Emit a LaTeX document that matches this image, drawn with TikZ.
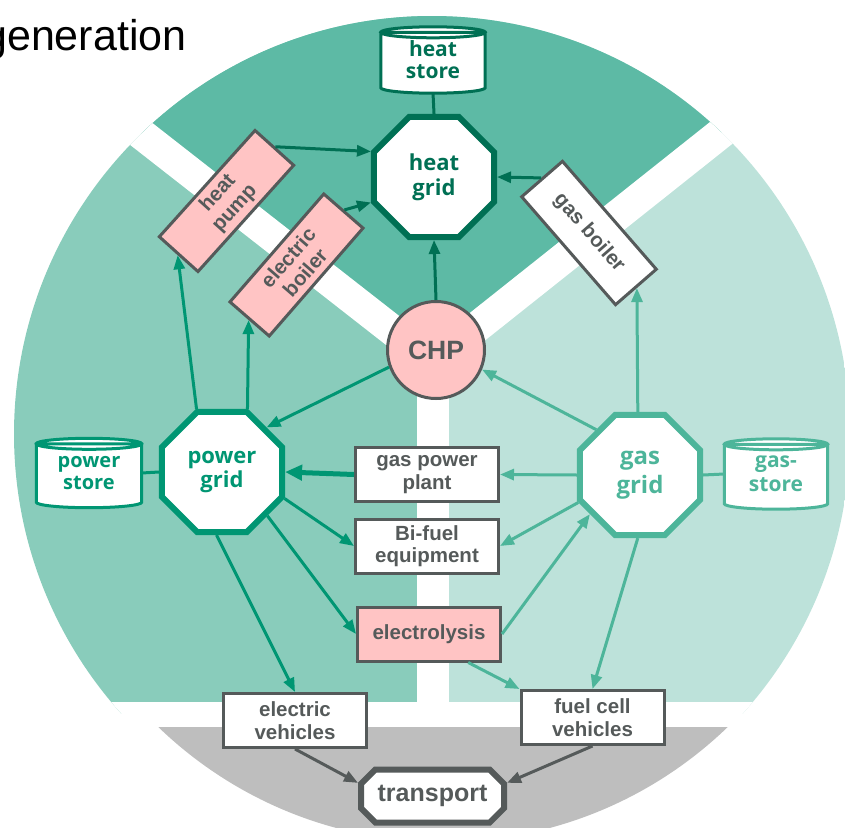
\documentclass[tikz,border=0pt]{standalone}
\usepackage{fontspec}
\setmainfont{Liberation Sans}
\newfontfamily\tfont{Open Sans}
\usetikzlibrary{shapes.geometric,shapes.misc,arrows.meta,calc}
\definecolor{heatc}{HTML}{007054}
\definecolor{powc}{HTML}{009673}
\definecolor{gasc}{HTML}{4DB59A}
\definecolor{secTop}{HTML}{5DBAA5}
\definecolor{secLeft}{HTML}{89CCBB}
\definecolor{secRight}{HTML}{BDE2DA}
\definecolor{secGray}{HTML}{BEBEBE}
\definecolor{pinkc}{HTML}{FFC4C4}
\definecolor{grayc}{HTML}{555A5A}
\pgfdeclarelayer{back}
\pgfdeclarelayer{mid}
\pgfsetlayers{back,mid,main}
\begin{document}
\begin{tikzpicture}[x=1pt,y=-1pt,
  hub/.style={regular polygon, regular polygon sides=8, minimum size=130pt, inner sep=0pt,
    line width=6pt, fill=white, align=center, font=\tfont\bfseries\fontsize{22}{25}\selectfont},
  box/.style={rectangle, draw=grayc, line width=3pt, fill=white, minimum width=143pt,
    minimum height=54pt, inner sep=0pt, align=center, text=grayc,
    font=\bfseries\fontsize{20.5}{22.5}\selectfont},
  pinkbox/.style={box, fill=pinkc},
  store/.style={rectangle, draw=none, fill=none, inner sep=0pt, align=center,
    font=\tfont\bfseries\fontsize{20}{22}\selectfont},
  arr/.style={line width=3pt, -{Triangle[length=14pt,width=11pt]}},
  bigarr/.style={line width=5pt, -{Triangle[length=17pt,width=15pt]}},
  link/.style={line width=3pt}
]
\useasboundingbox (0,0) rectangle (845,827);

% ---------- background sectors ----------
\begin{pgfonlayer}{back}
\begin{scope}
  \clip (432,434) circle (418pt);
  \fill[secLeft] (0,-20) rectangle (433,714);
  \fill[secRight] (433,-20) rectangle (900,714);
  \fill[secTop] (433,362) -- (-167,-107) -- (-167,-300) -- (1033,-300) -- (1033,-115) -- cycle;
  \begin{scope}
    \clip (443,432) circle (410pt);
    \fill[secGray] (0,714) rectangle (900,900);
  \end{scope}
  \draw[white, line width=31pt] (433,362) -- (-167,-107);
  \draw[white, line width=31pt] (433,362) -- (1033,-115);
  \draw[white, line width=32pt] (433,362) -- (433,714);
  \draw[white, line width=25pt] (-20,714.5) -- (900,714.5);
\end{scope}
\end{pgfonlayer}

% ---------- title ----------
\node[anchor=base west, inner sep=0pt, font=\fontsize{43}{45}\selectfont] (gen) at (-17,50) {generation};

% ---------- hubs ----------
\node[hub, draw=heatc, text=heatc] (hg) at (434,177) {heat\\grid};
\node[hub, draw=powc, text=powc, font=\tfont\bfseries\fontsize{22}{24}\selectfont] (pg) at (222,472) {power\\grid};
\node[hub, draw=gasc, text=gasc, font=\tfont\bfseries\fontsize{24}{29}\selectfont] (gg) at (640,475) {gas\\grid};

% ---------- stores ----------
\node[store, text=heatc, minimum width=104pt, minimum height=55pt, font=\tfont\bfseries\fontsize{21}{22}\selectfont] (hs) at (433,60) {heat\\store};
\node[store, text=powc, minimum width=105pt, minimum height=58pt] (ps) at (89,473) {power\\store};
\node[store, text=gasc, minimum width=103pt, minimum height=59pt, font=\tfont\bfseries\fontsize{21}{24}\selectfont] (gs) at (776,474) {gas-\\store};
\begin{pgfonlayer}{mid}
\foreach \s/\c in {hs/heatc, ps/powc, gs/gasc}{
  \path let \p1=(\s.north west), \p2=(\s.north east), \n1={(\x2-\x1)/2} in
    [draw=\c, line width=3pt, fill=white]
    (\s.north west) -- (\s.south west) arc[start angle=180, end angle=360, x radius=\n1, y radius=5.5pt] -- (\s.north east) -- cycle
    (\s.north) ellipse[x radius=\n1, y radius=5.5pt];
}
\end{pgfonlayer}

% ---------- converters ----------
\node[pinkbox, rotate=48, minimum height=52pt] (hp) at (226.5,201) {heat\\pump};
\node[pinkbox, rotate=49, minimum height=52pt] (eb) at (296.5,265) {electric\\boiler};
\node[box, rotate=-49, minimum height=54pt] (gb) at (589,233) {gas boiler};
\node[circle, draw=grayc, line width=3pt, fill=pinkc, minimum size=97pt, inner sep=0pt,
      text=grayc, font=\bfseries\fontsize{26.5}{28}\selectfont] (chp) at (436,350) {CHP};
\node[box] (gpp) at (427,474.5) {gas power\\plant};
\node[box] (bf) at (427,546) {Bi-fuel\\equipment};
\node[pinkbox] (el) at (429,634) {electrolysis};
\node[box] (ev) at (295,720.5) {electric\\vehicles};
\node[box] (fcv) at (592.5,717.5) {fuel cell\\vehicles};
\node[chamfered rectangle, chamfered rectangle xsep=14pt, chamfered rectangle angle=45,
      draw=grayc, line width=6pt, fill=white, minimum width=143pt, minimum height=53pt, inner sep=0pt,
      text=grayc, font=\bfseries\fontsize{25}{27}\selectfont] (tr) at (432.5,796) {transport};

% ---------- connectors ----------
\draw[link, heatc] ([yshift=-5pt]hs.south) -- (hg.north);
\draw[arr, heatc] (hp.east) -- (hg.158);
\draw[arr, heatc] (eb.east) -- (hg.202);
\draw[arr, heatc] (chp.north) -- (hg.south);
\draw[arr, heatc] (gb.west) -- (hg.east);

\draw[link, powc] (ps.east) -- (pg.west);
\draw[arr, powc] (pg.112) -- (hp.west);
\draw[arr, powc] (pg.68) -- (eb.west);
\draw[arr, powc] (chp.200) -- (pg.45);
\draw[bigarr, powc] (gpp.west) -- (pg.east);
\draw[arr, powc] (pg.337) -- (bf.west);
\draw[arr, powc] (pg.316) -- (el.west);
\draw[arr, powc] (pg.265) -- (ev.north);

\draw[link, gasc] (gs.west) -- (gg.east);
\draw[arr, gasc] (gg.134) -- (chp.337);
\draw[arr, gasc] (gg.92) -- (gb.east);
\draw[arr, gasc] (gg.west) -- (gpp.east);
\draw[arr, gasc] (gg.204) -- (bf.east);
\draw[arr, gasc] (el.east) -- (gg.218);
\draw[arr, gasc] (gg.268) -- (fcv.north);
\draw[arr, gasc] (el.-36) -- (fcv.north west);

\draw[arr, grayc] (ev.south) -- (tr.170);
\draw[arr, grayc] (fcv.south) -- (tr.10);
\end{tikzpicture}
\end{document}
